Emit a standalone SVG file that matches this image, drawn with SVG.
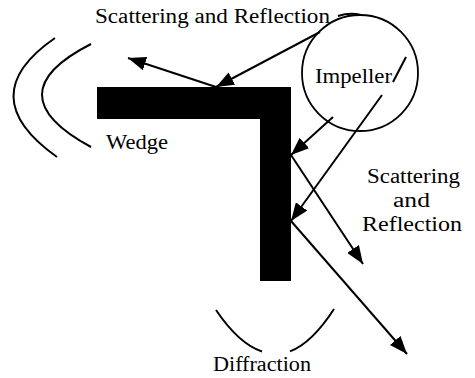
<svg xmlns="http://www.w3.org/2000/svg" width="475" height="378" viewBox="0 0 475 378">
<style>
  .t { font-family: 'Liberation Serif', 'DejaVu Serif', 'Times New Roman', Times, serif; font-size: 20px; fill: #000; }
  .ln { stroke: #000; stroke-width: 2; fill: none; }
  .arr { stroke: #000; stroke-width: 2; fill: none; marker-end: url(#ah); }
</style>
<defs>
  <marker id="ah" markerUnits="userSpaceOnUse" markerWidth="18" markerHeight="14" refX="18" refY="7" orient="auto">
    <path d="M0,0 L18,7 L0,14 Z" fill="#000"/>
  </marker>
</defs>
<rect width="475" height="378" fill="#fff"/>
<g id="waves">
  <path class="ln" d="M55,38 Q-29,96 57,157"/>
  <path class="ln" d="M91,44 Q-7,94 91,147"/>
  <path class="ln" d="M216,310 Q239,344 262,351.5"/>
  <path class="ln" d="M290,351.4 Q312,343 334,309"/>
</g>
<g id="wedge">
  <path d="M97,87 H291 V281 H260 V119 H97 Z" fill="#000"/>
  <text class="t" x="106" y="149" textLength="62" lengthAdjust="spacingAndGlyphs">Wedge</text>
</g>
<g id="impeller">
  <circle cx="360" cy="73" r="58" fill="none" stroke="#000" stroke-width="1.8"/>
  <text class="t" x="315" y="83" textLength="77" lengthAdjust="spacingAndGlyphs">Impeller</text>
  <line class="ln" x1="393" y1="82" x2="406" y2="57"/>
</g>
<g id="label-top">
  <text class="t" x="95" y="23" textLength="235" lengthAdjust="spacingAndGlyphs">Scattering and Reflection</text>
  <path class="ln" d="M338,16 Q350,12 361,15"/>
</g>
<g id="label-right">
  <text class="t" x="367" y="183" textLength="93" lengthAdjust="spacingAndGlyphs">Scattering</text>
  <text class="t" x="393" y="207" textLength="37" lengthAdjust="spacingAndGlyphs">and</text>
  <text class="t" x="362" y="231" textLength="100" lengthAdjust="spacingAndGlyphs">Reflection</text>
</g>
<g id="label-bottom">
  <text class="t" x="213" y="371" textLength="98" lengthAdjust="spacingAndGlyphs">Diffraction</text>
</g>
<g id="connectors">
  <line class="arr" x1="320" y1="32" x2="216" y2="87"/>
  <line class="arr" x1="216" y1="87" x2="128" y2="58"/>
  <line class="arr" x1="333" y1="117" x2="291" y2="155"/>
  <line class="arr" x1="382" y1="95" x2="291" y2="221"/>
  <line class="arr" x1="291" y1="155" x2="363" y2="264"/>
  <line class="arr" x1="291" y1="221" x2="407" y2="354"/>
</g>
</svg>
